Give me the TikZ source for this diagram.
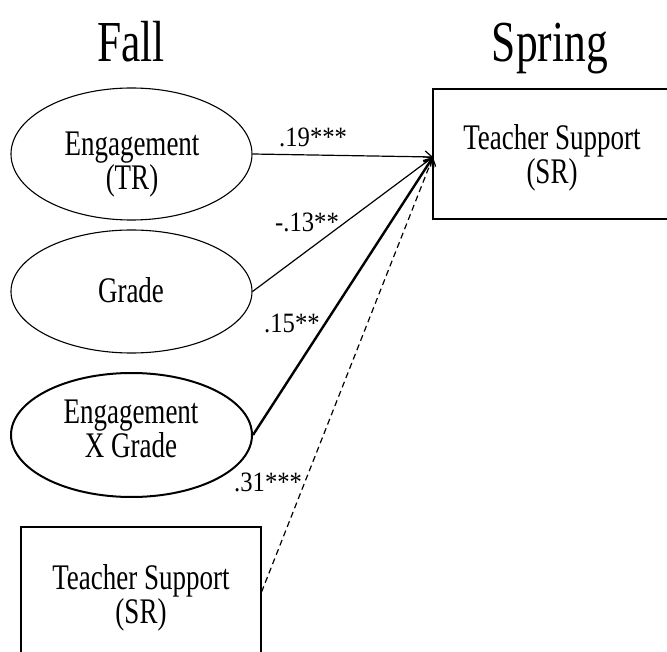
\documentclass[tikz,border=0pt]{standalone}
\usepackage{fontspec}
\setmainfont[FakeStretch=0.75]{Liberation Serif}
\newfontfamily\lblfont[FakeStretch=0.88]{Liberation Serif}
\usetikzlibrary{arrows.meta,shapes.geometric}
\begin{document}
\begin{tikzpicture}[x=1pt,y=-1pt,
  latent/.style={ellipse, draw, line width=1.1pt, minimum width=241pt, minimum height=124pt, inner sep=0pt},
  obsbox/.style={rectangle, draw, line width=1.1pt, minimum width=240pt, minimum height=130pt, inner sep=0pt},
  txt/.style={inner sep=0pt, align=center, font=\fontsize{36}{34}\selectfont},
  ttl/.style={inner sep=0pt, anchor=base, font=\fontsize{58}{60}\selectfont},
  coef/.style={inner sep=0pt, anchor=base west, font=\lblfont\fontsize{28}{30}\selectfont},
  arr/.style={line width=1.2pt, -{Straight Barb[length=7pt,width=12pt]}}]
\useasboundingbox (0,0) rectangle (667,652);
\node[ttl] (fall) at (131,62) {Fall};
\node[ttl] (spring) at (550,62) {Spring};
\node[latent, minimum height=132pt] (e1) at (131.5,154) {};
\node[txt] (e1t) at (132,165) {Engagement\\(TR)};
\node[latent, minimum height=123pt] (e2) at (131.5,291.5) {};
\node[txt, anchor=base] (e2t) at (131,303) {Grade};
\node[latent, line width=2pt] (e3) at (131.5,435) {};
\node[txt] (e3t) at (131,429) {Engagement\\X Grade};
\node[obsbox, minimum width=238pt] (ts2) at (552,154) {};
\node[txt] (ts2t) at (552,157.5) {Teacher Support\\(SR)};
\node[obsbox] (ts1) at (141,592) {};
\node[txt] (ts1t) at (141,598) {Teacher Support\\(SR)};
\coordinate (tip) at (433,157);
\draw[arr] (e1.east) -- (tip);
\draw[arr] (e2.east) -- (tip);
\draw[arr, line width=2.4pt] (e3.east) -- (tip);
\draw[arr, dash pattern=on 6pt off 4pt] (ts1.east) -- (tip);
\node[coef] (c1) at (279,147) {.19***};
\node[coef] (c2) at (275,232) {-.13**};
\node[coef] (c3) at (264,333) {.15**};
\node[coef] (c4) at (234,491) {.31***};
\end{tikzpicture}
\end{document}
